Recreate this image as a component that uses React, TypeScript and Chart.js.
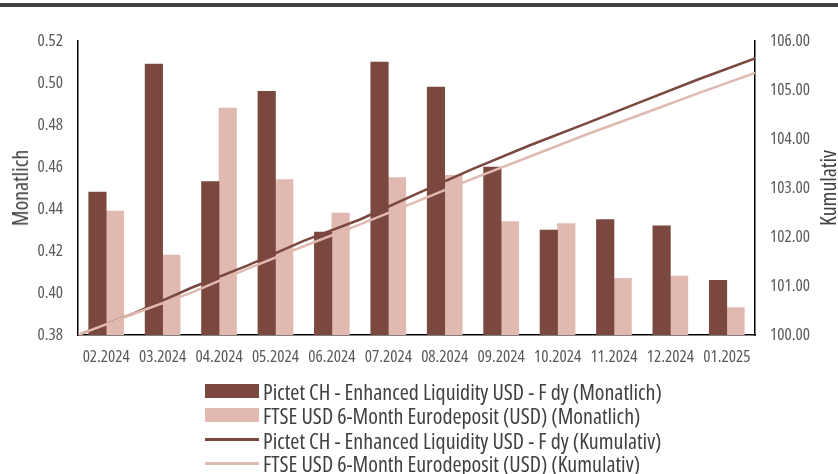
import React, { useEffect, useRef } from "react";
import { Chart, registerables } from "chart.js";

Chart.register(...registerables);

const categories = [
  "02.2024", "03.2024", "04.2024", "05.2024", "06.2024", "07.2024",
  "08.2024", "09.2024", "10.2024", "11.2024", "12.2024", "01.2025",
];
const pictetMonthly = [0.448, 0.509, 0.453, 0.496, 0.429, 0.51, 0.498, 0.46, 0.43, 0.435, 0.432, 0.406];
const ftseMonthly = [0.439, 0.418, 0.488, 0.454, 0.438, 0.455, 0.456, 0.434, 0.433, 0.407, 0.408, 0.393];
// cumulative values at month boundaries (start of 02.2024 ... end of 01.2025)
const boundarySteps = [0, 1, 2, 3, 4, 5, 6, 7, 8, 9, 10, 11, 12];
const pictetCumulative = [100, 100.448, 100.959, 101.417, 101.92, 102.357, 102.879, 103.391, 103.867, 104.314, 104.767, 105.22, 105.647];
const ftseCumulative = [100, 100.439, 100.859, 101.351, 101.811, 102.257, 102.722, 103.191, 103.638, 104.087, 104.511, 104.937, 105.35];

const leftAxis = { min: 0.38, max: 0.52, step: 0.02 };
const rightAxis = { min: 100, max: 106, step: 1 };

const seriesNames = [
  "Pictet CH - Enhanced Liquidity USD - F dy (Monatlich)",
  "FTSE USD 6-Month Eurodeposit (USD) (Monatlich)",
  "Pictet CH - Enhanced Liquidity USD - F dy (Kumulativ)",
  "FTSE USD 6-Month Eurodeposit (USD) (Kumulativ)",
];

const DARK = "#7B4840";
const PALE = "#E0BAB0";
const FAMILY = "'Open Sans', 'Roboto Condensed', sans-serif";
const tickFont = { family: FAMILY, size: 17, weight: "condensed" as any };

export default function App() {
  const canvasRef = useRef<HTMLCanvasElement | null>(null);

  useEffect(() => {
    if (!canvasRef.current) return;
    const chart = new Chart(canvasRef.current, {
      type: "bar",
      data: {
        labels: categories,
        datasets: [
          {
            type: "line",
            label: seriesNames[3],
            data: boundarySteps.map((s, i) => ({ x: s, y: ftseCumulative[i] })),
            xAxisID: "x2",
            yAxisID: "y1",
            borderColor: PALE,
            backgroundColor: PALE,
            borderWidth: 2.5,
            pointRadius: 0,
            tension: 0,
            order: 0,
          } as any,
          {
            type: "line",
            label: seriesNames[2],
            data: boundarySteps.map((s, i) => ({ x: s, y: pictetCumulative[i] })),
            xAxisID: "x2",
            yAxisID: "y1",
            borderColor: DARK,
            backgroundColor: DARK,
            borderWidth: 2.5,
            pointRadius: 0,
            tension: 0,
            order: 1,
          } as any,
          {
            type: "bar",
            label: seriesNames[0],
            data: pictetMonthly,
            xAxisID: "x",
            yAxisID: "y",
            backgroundColor: DARK,
            barThickness: 17.5,
            order: 2,
          } as any,
          {
            type: "bar",
            label: seriesNames[1],
            data: ftseMonthly,
            xAxisID: "x",
            yAxisID: "y",
            backgroundColor: PALE,
            barThickness: 17.5,
            order: 3,
          } as any,
        ],
      },
      options: {
        animation: false,
        responsive: false,
        maintainAspectRatio: false,
        devicePixelRatio: 1,
        layout: { padding: { left: 0, right: 0, top: 41, bottom: 99 } },
        plugins: {
          legend: { display: false },
          tooltip: { enabled: false },
        },
        scales: {
          x: {
            type: "category",
            position: "bottom",
            offset: true,
            grid: { display: false, drawTicks: false },
            border: { display: true, color: "#000000", width: 1.5 },
            ticks: {
              color: "#595959",
              font: tickFont,
              padding: 12,
              maxRotation: 0,
              autoSkip: false,
            },
            afterFit: (scale: any) => {
              scale.height = 40;
            },
          },
          x2: {
            type: "linear",
            display: false,
            offset: false,
            min: 0,
            max: 12,
            grid: { offset: false },
          },
          y: {
            type: "linear",
            position: "left",
            min: leftAxis.min,
            max: leftAxis.max,
            grid: { display: false, drawTicks: false },
            border: { display: true, color: "#000000", width: 1.5 },
            ticks: {
              stepSize: leftAxis.step,
              color: "#595959",
              font: tickFont,
              padding: 15,
              callback: (v: any) => Number(v).toFixed(2),
            },
            afterFit: (scale: any) => {
              scale.width = 78;
            },
          },
          y1: {
            type: "linear",
            position: "right",
            min: rightAxis.min,
            max: rightAxis.max,
            grid: { display: false, drawTicks: false },
            border: { display: true, color: "#000000", width: 1.5 },
            ticks: {
              stepSize: rightAxis.step,
              color: "#595959",
              font: tickFont,
              padding: 15,
              callback: (v: any) => Number(v).toFixed(2),
            },
            afterFit: (scale: any) => {
              scale.width = 83;
            },
          },
        },
      },
    });
    return () => chart.destroy();
  }, []);

  const legendRows = [
    { label: seriesNames[0], color: DARK, kind: "bar", cy: 391 },
    { label: seriesNames[1], color: PALE, kind: "bar", cy: 414.5 },
    { label: seriesNames[2], color: DARK, kind: "line", cy: 439.5 },
    { label: seriesNames[3], color: PALE, kind: "line", cy: 463 },
  ];

  const titleStyle: React.CSSProperties = {
    position: "absolute",
    fontFamily: FAMILY,
    fontStretch: "condensed",
    fontSize: 22,
    lineHeight: "22px",
    color: "#404040",
    whiteSpace: "nowrap",
    transform: "translate(-50%, -50%) rotate(-90deg)",
  };

  return (
    <div
      style={{
        position: "fixed",
        left: 0,
        top: 0,
        width: 838,
        height: 474,
        overflow: "hidden",
        background: "#ffffff",
      }}
    >
      <div style={{ position: "absolute", left: 0, top: 3, width: 838, height: 4, background: "#404040" }} />
      <canvas ref={canvasRef} width={838} height={474} style={{ position: "absolute", left: 0, top: 0, width: 838, height: 474 }} />
      <div style={{ ...titleStyle, left: 18.5, top: 188 }}>Monatlich</div>
      <div style={{ ...titleStyle, left: 827, top: 188 }}>Kumulativ</div>
      {legendRows.map((r) => (
        <div
          key={r.label}
          style={{
            position: "absolute",
            left: 205,
            top: r.cy - 12,
            height: 24,
            display: "flex",
            alignItems: "center",
            whiteSpace: "nowrap",
          }}
        >
          <div
            style={{
              width: 54,
              height: r.kind === "bar" ? 14 : 3,
              background: r.color,
              marginRight: 4,
            }}
          />
          <span
            style={{
              fontFamily: FAMILY,
              fontStretch: "condensed",
              fontSize: 22,
              lineHeight: "24px",
              color: "#404040",
            }}
          >
            {r.label}
          </span>
        </div>
      ))}
    </div>
  );
}
